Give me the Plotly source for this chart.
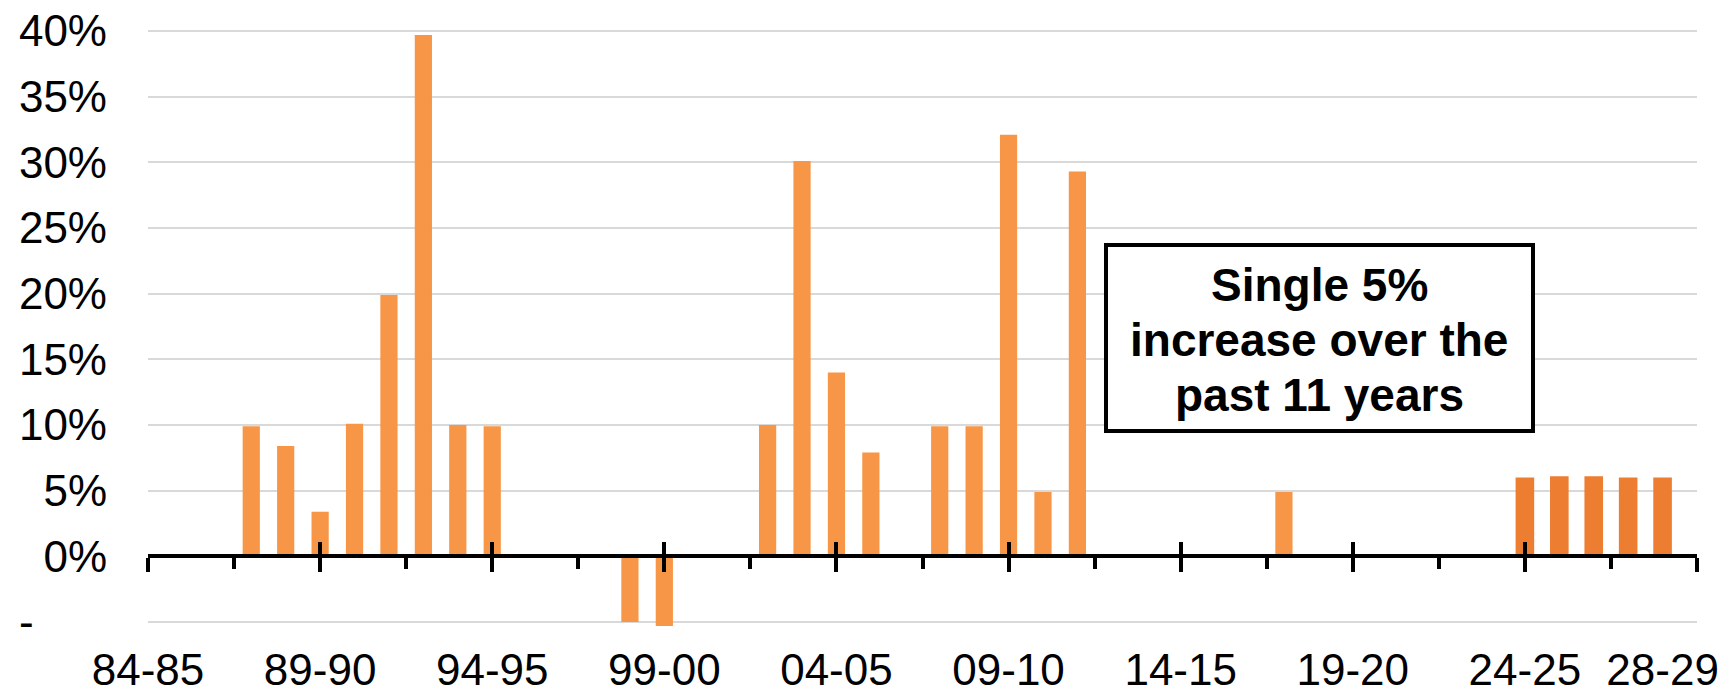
import plotly.graph_objects as go

# ---- data ----
fiscal_years = ["84-85", "85-86", "86-87", "87-88", "88-89", "89-90", "90-91", "91-92",
                "92-93", "93-94", "94-95", "95-96", "96-97", "97-98", "98-99", "99-00",
                "00-01", "01-02", "02-03", "03-04", "04-05", "05-06", "06-07", "07-08",
                "08-09", "09-10", "10-11", "11-12", "12-13", "13-14", "14-15", "15-16",
                "16-17", "17-18", "18-19", "19-20", "20-21", "21-22", "22-23", "23-24",
                "24-25", "25-26", "26-27", "27-28", "28-29"]

historical_pct = [None, None, None, 9.9, 8.4, 3.4, 10.1, 19.9,
                  39.7, 10.0, 9.9, None, None, None, -5.0, -5.3,
                  None, None, 10.0, 30.1, 14.0, 7.9, None, 9.9,
                  9.9, 32.1, 4.9, 29.3, None, None, None, None,
                  None, 4.9, None, None, None, None, None, None,
                  None, None, None, None, None]

projected_pct = [None] * 40 + [6.0, 6.1, 6.1, 6.0, 6.0]

tick_labels = ["84-85", "89-90", "94-95", "99-00", "04-05", "09-10",
               "14-15", "19-20", "24-25", "28-29"]
y_tick_values = [-5, 0, 5, 10, 15, 20, 25, 30, 35, 40]
y_tick_labels = ["-" + "\u00a0" * 6, "0%", "5%", "10%", "15%", "20%", "25%", "30%", "35%", "40%"]

annotation_lines = ["Single 5%", "increase over the", "past 11 years"]

# ---- figure ----
x_idx = list(range(len(fiscal_years)))
FONT = "Liberation Sans, Arial, sans-serif"
YMIN, YMAX = -5.3, 40.3
zero_pos = (0 - YMIN) / (YMAX - YMIN)
n_cats = len(fiscal_years)

fig = go.Figure()
fig.add_trace(go.Bar(x=x_idx, y=historical_pct, width=0.5,
                     marker=dict(color="#F79646", line=dict(width=0)),
                     customdata=fiscal_years, hovertemplate="%{customdata}: %{y}%<extra></extra>"))
fig.add_trace(go.Bar(x=x_idx, y=projected_pct, width=0.54,
                     marker=dict(color="#ED7D31", line=dict(width=0)),
                     customdata=fiscal_years, hovertemplate="%{customdata}: %{y}%<extra></extra>"))

# tick marks every 5 categories across the full axis; labels at the same places,
# except the last label which sits on the final category
tick_marks = list(range(0, n_cats + 1, 5))
label_pos = tick_marks[:-1] + [n_cats - 1]

fig.update_layout(
    width=1724, height=700,
    margin=dict(l=148, r=27, t=27, b=74),
    plot_bgcolor="white", paper_bgcolor="white",
    showlegend=False, barmode="overlay",
    font=dict(family=FONT, size=44, color="black"),
    xaxis=dict(range=[0, n_cats], tickvals=label_pos, ticktext=tick_labels,
               showgrid=False, zeroline=False, showline=False, ticks="", automargin=False,
               tickfont=dict(size=44, color="black"), ticklabelstandoff=14),
    xaxis2=dict(overlaying="x", anchor="free", position=zero_pos, side="bottom",
                range=[0, n_cats], tickvals=tick_marks, showticklabels=False, automargin=False,
                showgrid=False, zeroline=False, showline=True, linecolor="black", linewidth=4,
                ticks="outside", ticklen=14, tickwidth=4, tickcolor="black",
                minor=dict(ticks="outside", tickvals=[t + 2.5 for t in tick_marks[:-1]],
                           ticklen=11, tickwidth=4, tickcolor="black")),
    xaxis3=dict(overlaying="x", anchor="free", position=zero_pos, side="bottom",
                range=[0, n_cats], tickvals=tick_marks, showticklabels=False, automargin=False,
                showgrid=False, zeroline=False, showline=False,
                ticks="inside", ticklen=14, tickwidth=4, tickcolor="black"),
    yaxis=dict(range=[YMIN, YMAX], tickvals=y_tick_values, ticktext=y_tick_labels,
               showgrid=True, gridcolor="#d9d9d9", gridwidth=2, zeroline=False, automargin=False,
               showline=False, ticks="", tickfont=dict(size=44, color="black"),
               ticklabelstandoff=40),
)

# invisible traces to activate overlay axes
fig.add_trace(go.Scatter(x=[0], y=[0], xaxis="x2", mode="markers",
                         marker=dict(opacity=0), hoverinfo="skip"))
fig.add_trace(go.Scatter(x=[0], y=[0], xaxis="x3", mode="markers",
                         marker=dict(opacity=0), hoverinfo="skip"))

BOX_X, BOX_Y = 34.03, 16.6
fig.add_annotation(x=BOX_X, y=BOX_Y, xref="x", yref="y", text="\u00a0",
                   showarrow=False, xanchor="center", yanchor="middle",
                   bordercolor="black", borderwidth=4, borderpad=0,
                   bgcolor="white", width=423, height=182)
for i, line in enumerate(annotation_lines):
    fig.add_annotation(x=BOX_X, y=BOX_Y, xref="x", yref="y", text="<b>" + line + "</b>",
                       showarrow=False, xanchor="center", yanchor="middle",
                       yshift=(1 - i) * 55 - 2,
                       font=dict(family=FONT, size=46, color="black"))

fig.write_html("out.html")
